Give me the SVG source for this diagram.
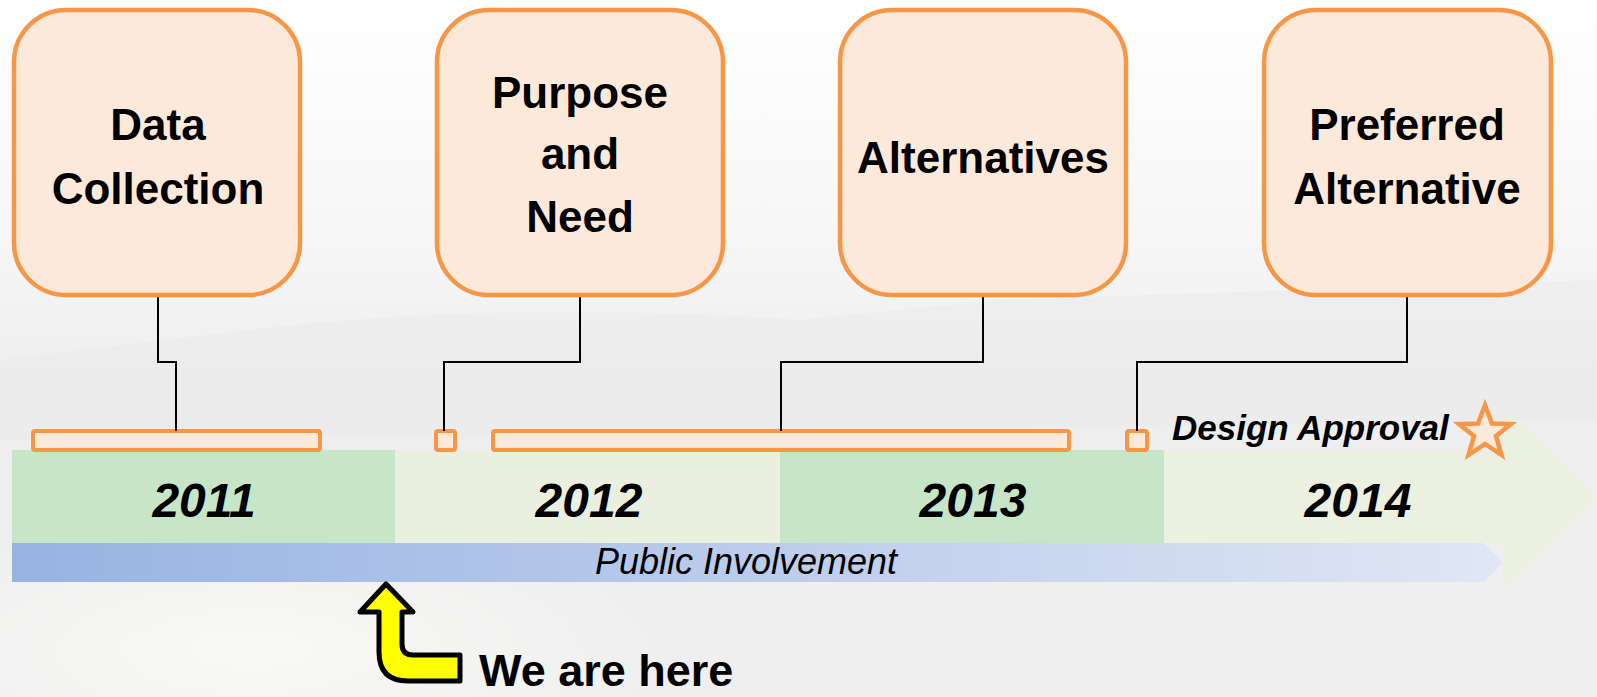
<svg xmlns="http://www.w3.org/2000/svg" width="1597" height="697" viewBox="0 0 1597 697">
<defs>
<linearGradient id="bg" x1="0" y1="0" x2="0" y2="1">
<stop offset="0" stop-color="#FFFFFF"/>
<stop offset="0.35" stop-color="#F6F6F6"/>
<stop offset="0.55" stop-color="#EEEEEE"/>
<stop offset="1" stop-color="#EFEFEF"/>
</linearGradient>
<radialGradient id="glow" cx="0.5" cy="0.5" r="0.5">
<stop offset="0" stop-color="#FAFAF8" stop-opacity="0.9"/>
<stop offset="1" stop-color="#FAFAF8" stop-opacity="0"/>
</radialGradient>
<linearGradient id="pi" x1="0" y1="0" x2="1" y2="0">
<stop offset="0" stop-color="#97B3E2"/>
<stop offset="0.5" stop-color="#BCCCEC"/>
<stop offset="1" stop-color="#E0E7F4"/>
</linearGradient>
<style>
.box{fill:#FDE9D9;stroke:#F79646;stroke-width:4.5}
.bar{fill:#FDE9D9;stroke:#F79646;stroke-width:4}
.lbl{font-family:"Liberation Sans",Arial,sans-serif;font-weight:bold;font-size:44px;fill:#000;text-anchor:middle}
.yr{font-family:"Liberation Sans",Arial,sans-serif;font-weight:bold;font-style:italic;font-size:48px;fill:#000;text-anchor:middle}
.conn{fill:none;stroke:#000;stroke-width:2}
</style>
</defs>
<rect x="0" y="0" width="1597" height="697" fill="url(#bg)"/>
<ellipse cx="250" cy="650" rx="420" ry="140" fill="url(#glow)"/>
<path d="M250 330 Q500 300 800 320 L1000 300 L1597 280 L1597 420 L0 440 L0 360 Z" fill="#EAEAEA" opacity="0.5"/>

<g id="timeline">
<rect x="12" y="450" width="383" height="93" fill="#C7E6C8"/>
<rect x="395" y="450" width="385" height="93" fill="#EAEFDF"/>
<rect x="780" y="450" width="384" height="93" fill="#C7E6C8"/>
<path d="M1164 450 H1503 V406 L1597 497 L1503 592 V543 H1164 Z" fill="#EAEFDF" opacity="0.9"/>
<text class="yr" x="204" y="517">2011</text>
<text class="yr" x="589" y="517">2012</text>
<text class="yr" x="973" y="517">2013</text>
<text class="yr" x="1358" y="517">2014</text>
</g>

<g id="public-involvement">
<path d="M12 543 H1484 L1503 563 L1484 582 H12 Z" fill="url(#pi)"/>
<text x="746" y="574" font-family="'Liberation Sans',Arial,sans-serif" font-style="italic" font-size="36" fill="#000" text-anchor="middle">Public Involvement</text>
</g>

<g id="bars">
<rect class="bar" x="33" y="431" width="287" height="19" rx="2"/>
<rect class="bar" x="436" y="431" width="19" height="19" rx="2"/>
<rect class="bar" x="493" y="431" width="576" height="19" rx="2"/>
<rect class="bar" x="1127" y="431" width="20" height="19" rx="2"/>
</g>

<g id="connectors">
<path class="conn" d="M158 297 V362 H176 V431"/>
<path class="conn" d="M580 297 V362 H444 V431"/>
<path class="conn" d="M983 297 V362 H781 V431"/>
<path class="conn" d="M1407 297 V362 H1137 V431"/>
</g>

<g id="node-data-collection">
<rect class="box" x="14" y="10" width="286" height="285" rx="52"/>
<text class="lbl" x="158" y="140">Data</text>
<text class="lbl" x="158" y="204">Collection</text>
</g>
<g id="node-purpose-need">
<rect class="box" x="437" y="10" width="286" height="285" rx="52"/>
<text class="lbl" x="580" y="108">Purpose</text>
<text class="lbl" x="580" y="169">and</text>
<text class="lbl" x="580" y="232">Need</text>
</g>
<g id="node-alternatives">
<rect class="box" x="840" y="10" width="286" height="285" rx="52"/>
<text class="lbl" x="983" y="173">Alternatives</text>
</g>
<g id="node-preferred">
<rect class="box" x="1264" y="10" width="287" height="285" rx="52"/>
<text class="lbl" x="1407" y="140">Preferred</text>
<text class="lbl" x="1407" y="204">Alternative</text>
</g>

<g id="design-approval">
<text x="1172" y="440" font-family="'Liberation Sans',Arial,sans-serif" font-weight="bold" font-style="italic" font-size="35" fill="#000">Design Approval</text>
<polygon points="1485,405 1492,423.5 1511,424 1496,436 1501.5,455 1485,444 1468.5,455 1474,436 1459,424 1478,423.5" fill="#FDE9D9" stroke="#F79646" stroke-width="4.5" stroke-linejoin="miter"/>
</g>

<g id="we-are-here">
<path d="M386 584 L413 612 H402 V644 Q402 655 413 655 H460 V681 H408 Q379 681 379 652 V612 H360 Z" fill="#FFFF00" stroke="#000" stroke-width="5" stroke-linejoin="round"/>
<text x="479" y="686" font-family="'Liberation Sans',Arial,sans-serif" font-weight="bold" font-size="45" fill="#000">We are here</text>
</g>
</svg>
